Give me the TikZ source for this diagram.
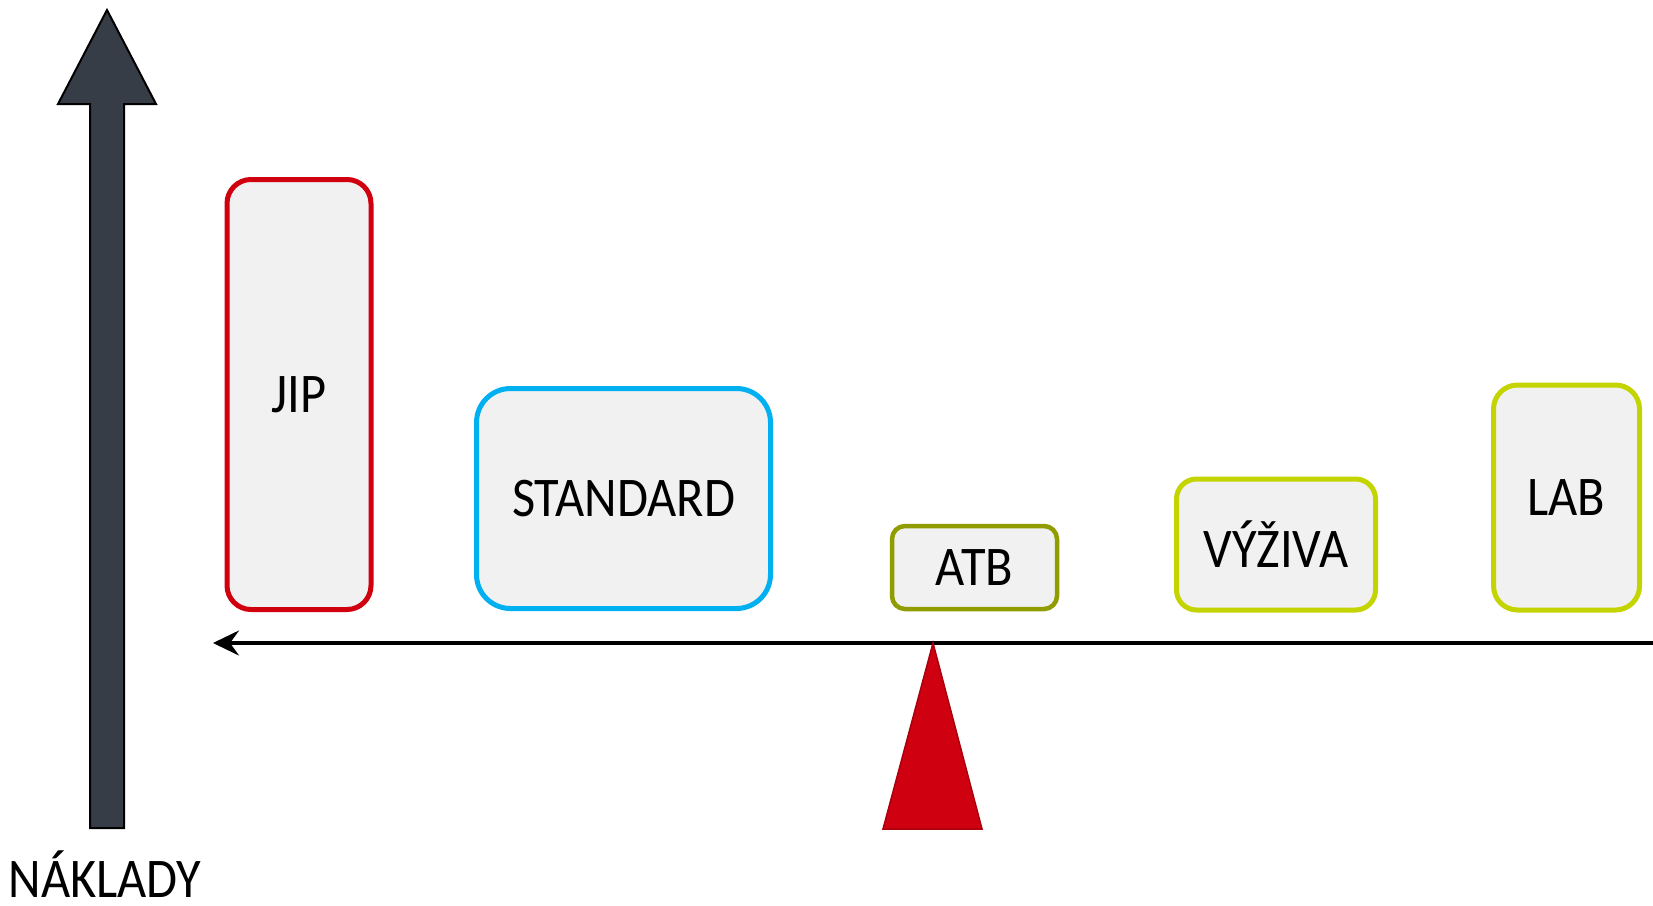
\documentclass[tikz,border=0pt]{standalone}
\usepackage{fontspec}
\setmainfont{Carlito}[FakeStretch=0.9]
\usetikzlibrary{arrows.meta}
\definecolor{boxfill}{HTML}{F1F1F1}
\definecolor{jipred}{HTML}{D0000F}
\definecolor{stdblue}{HTML}{00B0F0}
\definecolor{atbolive}{HTML}{909C00}
\definecolor{lime}{HTML}{C3D400}
\definecolor{slate}{HTML}{363D47}
\definecolor{fulcrum}{HTML}{CF0010}
\definecolor{fulcrumedge}{HTML}{A8000C}
\tikzset{
  labelfont/.style={font=\fontsize{56}{62}\selectfont},
  cost/.style={draw, fill=boxfill, line width=5pt, rounded corners=#1,
    rectangle, inner sep=0pt, labelfont},
  cost/.default=24pt,
}
\begin{document}
\begin{tikzpicture}[x=1pt,y=-1pt]
\useasboundingbox (0,0) rectangle (1653,905);

% vertical cost axis (block arrow)
\draw[fill=slate, line width=2pt, line join=miter]
  (90,828) -- (90,104) -- (58,104) -- (107,10) -- (156,104) -- (124,104) -- (124,828) -- cycle;
\node[anchor=base, labelfont, inner sep=0pt, text depth=0pt] (naklady) at (105,897) {NÁKLADY};

% cost items
\node[cost, draw=jipred, minimum width=144pt, minimum height=430pt] (jip) at (299,394.5) {JIP};
\node[cost=34pt, draw=stdblue, minimum width=294pt, minimum height=220pt] (std) at (623.5,498.5) {STANDARD};
\node[cost=13pt, draw=atbolive, line width=4.5pt, minimum width=165pt, minimum height=83pt] (atb) at (974.5,567.5) {ATB};
\node[cost=20pt, draw=lime, minimum width=199pt, minimum height=131pt] (vyz) at (1276,544.5) {VÝŽIVA};
\node[cost, draw=lime, minimum width=146pt, minimum height=225pt] (lab) at (1566.5,497.5) {LAB};

% balance beam and fulcrum
\coordinate (beamR) at (1653,643);
\coordinate (beamL) at (213,643);
\draw[line width=3.5pt, -{Stealth[length=26pt, width=25pt, inset=9pt]}] (beamR) -- (beamL);
\draw[fill=fulcrum, draw=fulcrumedge, line width=1.5pt, line join=miter]
  (933,643) -- (982,829) -- (883,829) -- cycle;
\end{tikzpicture}
\end{document}
